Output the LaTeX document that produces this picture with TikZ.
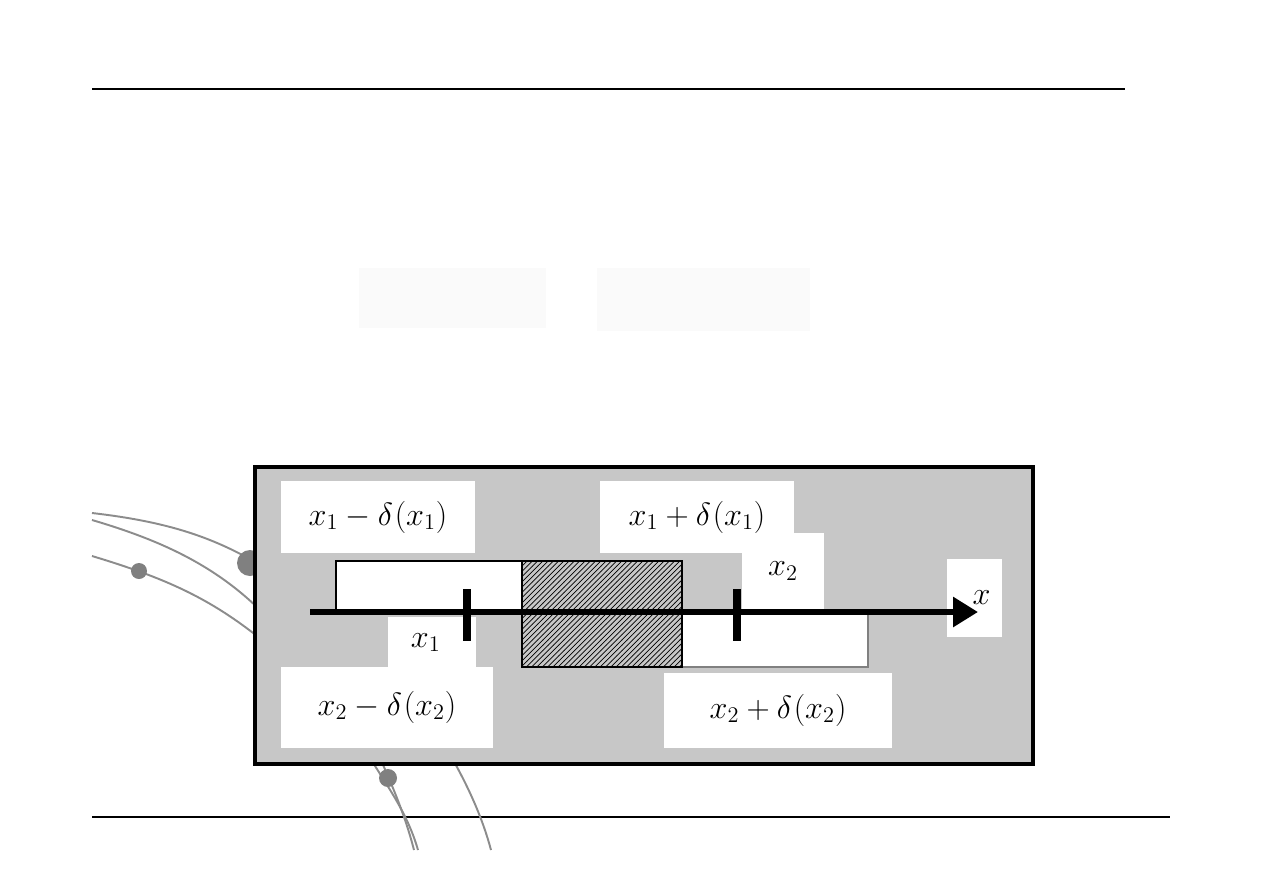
\documentclass[tikz,border=0pt]{standalone}
\usepackage{tikz}
\usetikzlibrary{positioning,arrows.meta,patterns}
\usepackage{xcolor}

\newcommand{\mathlbl}[1]{\scalebox{1.06}{$#1$}}

\begin{document}
\begin{tikzpicture}[
        x=0.02cm, y=-0.02cm,
        every node/.style={font=\LARGE},
        panel/.style={draw=black, line width=2.2pt, fill=black!22},
        labelbox/.style={fill=white, inner sep=0pt},
        interval/.style={draw=black, line width=0.9pt, fill=white},
        overlap/.style={draw=black, line width=0.9pt, pattern=north east lines},
        axis/.style={-{Triangle[length=0.5cm, width=0.58cm]}, line width=3.4pt},
        tick/.style={line width=4.5pt},
        deco/.style={draw=black!45, line width=1.1pt},
        decodot/.style={fill=black!50},
        rule/.style={line width=0.8pt}
    ]
        \useasboundingbox (0,0) rectangle (1263,893);

        % Page rules
        \draw[rule] (92,89) -- (1125,89);
        \draw[rule] (92,817) -- (1170,817);

        % Faint blocks
        \fill[black!2] (359,268) rectangle (546,328);
        \fill[black!2] (597,268) rectangle (810,331);

        % Background curves
        \draw[deco] (92,513) .. controls (170,522) and (215,538) .. (262,566);
        \draw[deco] (92,520) .. controls (160,540) and (215,565) .. (262,612);
        \draw[deco] (92,556) .. controls (165,578) and (210,598) .. (262,640);
        \fill[decodot] (250,563) circle (13);
        \fill[decodot] (139,571) circle (8);
        \draw[deco] (370,758) .. controls (390,790) and (408,815) .. (418,850);
        \draw[deco] (380,758) .. controls (392,785) and (405,815) .. (414,850);
        \draw[deco] (452,758) .. controls (470,790) and (483,820) .. (491,850);
        \fill[decodot] (388,778) circle (9);

        % Grey panel
        \draw[panel] (255,467) rectangle (1033,764);

        % White label boxes
        \node[labelbox, minimum width=3.88cm, minimum height=1.44cm] (lo1) at (378,517) {\mathlbl{x_1-\delta\mkern-2mu\left(x_1\right)}};
        \node[labelbox, minimum width=3.9cm, minimum height=1.44cm] (hi1) at (697,517) {\mathlbl{x_1+\delta\mkern-2mu\left(x_1\right)}};
        \node[labelbox, minimum width=1.64cm, minimum height=1.54cm] (px2) at (783,571) {\raisebox{-0.1cm}{\mathlbl{x_2}}};
        \node[labelbox, minimum width=1.76cm, minimum height=1.0cm] (px1) at (432,642) {\hspace{-0.25cm}\raisebox{-0.3cm}{\mathlbl{x_1}}};
        \node[labelbox, minimum width=4.26cm, minimum height=1.62cm] (lo2) at (387,707) {\mathlbl{x_2-\delta\mkern-2mu\left(x_2\right)}};
        \node[labelbox, minimum width=4.58cm, minimum height=1.5cm] (hi2) at (778,710) {\mathlbl{x_2+\delta\mkern-2mu\left(x_2\right)}};
        \node[labelbox, minimum width=1.1cm, minimum height=1.56cm] (xlab) at (974,598) {\hspace{0.3cm}\mathlbl{x}};

        % Intervals around x1 and x2
        \draw[interval] (336,612) -- (336,561) -- (522,561);
        \draw[interval, draw=black!50] (682,612) rectangle (868,667);
        \fill[white] (337,562) rectangle (522,612);
        \draw[overlap] (522,561) rectangle (682,667);

        % Axis with points
        \coordinate (axL) at (310,612);
        \coordinate (axR) at (978,612);
        \draw[axis] (axL) -- (axR);
        \coordinate (t1a) at (467,589);
        \coordinate (t1b) at (467,641);
        \coordinate (t2a) at (737,589);
        \coordinate (t2b) at (737,641);
        \draw[tick] (t1a) -- (t1b);
        \draw[tick] (t2a) -- (t2b);

    \end{tikzpicture}
\end{document}
